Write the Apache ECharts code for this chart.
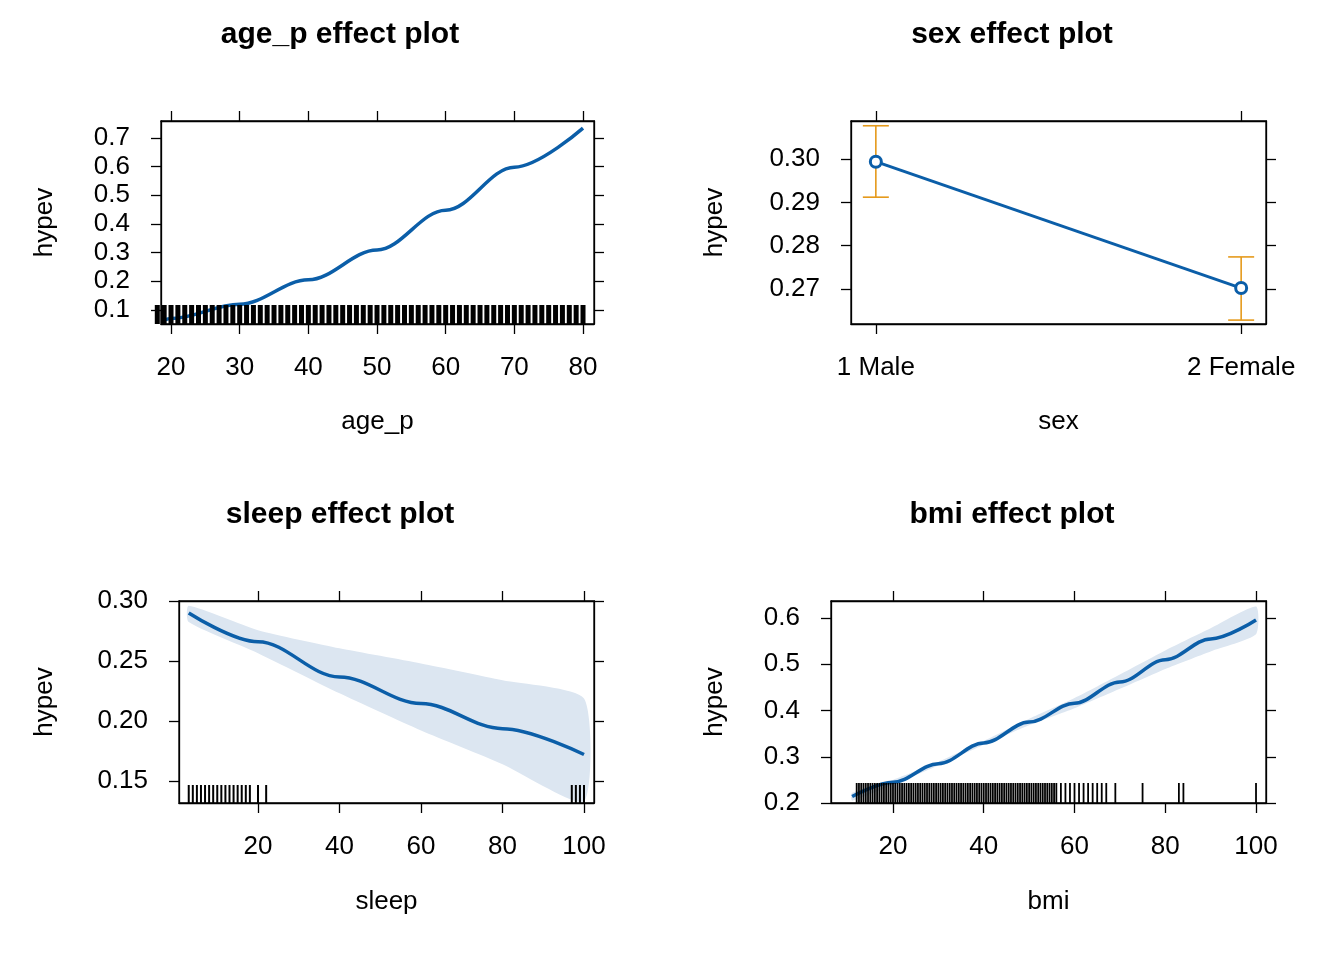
<!DOCTYPE html>
<html>
<head>
<meta charset="utf-8">
<script src="https://cdn.jsdelivr.net/npm/echarts@6/dist/echarts.min.js"></script>
<style>html,body{margin:0;background:#fff}#main{width:1344px;height:960px}</style>
</head>
<body>
<div id="main"></div>
<script>
'use strict';
// age_p panel
const ageX = [19, 20, 30, 40, 50, 60, 70, 80];
const ageFit = [0.065, 0.07, 0.12, 0.205, 0.309, 0.448, 0.598, 0.734];
const ageRug = [18,19,20,21,22,23,24,25,26,27,28,29,30,31,32,33,34,35,36,37,38,39,40,41,42,43,44,45,46,47,48,49,
  50,51,52,53,54,55,56,57,58,59,60,61,62,63,64,65,66,67,68,69,70,71,72,73,74,75,76,77,78,79,80];
// sex panel
const sexCats = ['1 Male', '2 Female'];
const sexFit = [0.2994, 0.2702];
const sexLower = [0.2912, 0.2628];
const sexUpper = [0.3077, 0.2774];
// sleep panel
const sleepX = [3, 20, 40, 60, 80, 100];
const sleepFit = [0.290, 0.266, 0.2366, 0.2145, 0.1936, 0.172];
const sleepLow = [0.2824, 0.2565, 0.223, 0.192, 0.164, 0.133];
const sleepUp = [0.296, 0.2757, 0.2606, 0.248, 0.234, 0.2188];
const sleepRug = [3,4,5,6,7,8,9,10,11,12,13,14,15,16,17,18,20,22,97,98,99,100];
// bmi panel
const bmiX = [11, 20, 30, 40, 50, 60, 70, 80, 90, 100];
const bmiFit = [0.214, 0.245, 0.285, 0.33, 0.375, 0.416, 0.462, 0.51, 0.555, 0.596];
const bmiLow = [0.205, 0.24, 0.281, 0.326, 0.368, 0.405, 0.447, 0.49, 0.528, 0.565];
const bmiUp = [0.222, 0.25, 0.289, 0.334, 0.382, 0.427, 0.478, 0.53, 0.578, 0.625];
const bmiRug = [12,12.5,13,13.5,14,14.5,15,15.5,16,16.5,17,17.5,18,18.5,19,19.5,20,20.5,21,21.5,22,22.5,23,23.5,
  24,24.5,25,25.5,26,26.5,27,27.5,28,28.5,29,29.5,30,30.5,31,31.5,32,32.5,33,33.5,34,34.5,35,35.5,36,36.5,
  37,37.5,38,38.5,39,39.5,40,40.5,41,41.5,42,42.5,43,43.5,44,44.5,45,45.5,46,46.5,47,47.5,48,48.5,49,49.5,
  50,50.5,51,51.5,52,52.5,53,53.5,54,54.5,55,55.5,56,57,58,59,60,61,62,63,64,65,66,67,69,75,83,84,100];

const BLUE = '#0B5EA8', BAND = '#DCE6F1', ORANGE = '#E59A1C';
const FONT = 'Liberation Sans';

const panels = [
  {grid: {left: 161, top: 121, width: 433, height: 203}, title: 'age_p effect plot', xname: 'age_p', tx: 335,
    xmin: 18.54, xmax: 81.6, ymin: 0.051, ymax: 0.759, xt: [20,30,40,50,60,70,80], yt: [0.1,0.2,0.3,0.4,0.5,0.6,0.7],
    yfmt: v => v.toFixed(1), ygap: 103, xgap: 85},
  {grid: {left: 851, top: 121, width: 415, height: 203}, title: 'sex effect plot', xname: 'sex', tx: 1007,
    xmin: 0.932, xmax: 2.068, ymin: 0.2619, ymax: 0.3088, xt: [1, 2], yt: [0.27,0.28,0.29,0.30],
    yfmt: v => v.toFixed(2), xfmt: v => sexCats[Math.round(v) - 1], ygap: 123, xgap: 85},
  {grid: {left: 179, top: 601, width: 415, height: 202}, title: 'sleep effect plot', xname: 'sleep', tx: 335,
    xmin: 0.61, xmax: 102.45, ymin: 0.1316, ymax: 0.30, xt: [20,40,60,80,100], yt: [0.15,0.20,0.25,0.30],
    yfmt: v => v.toFixed(2), ygap: 121, xgap: 86},
  {grid: {left: 831, top: 601, width: 435, height: 202}, title: 'bmi effect plot', xname: 'bmi', tx: 1007,
    xmin: 6.34, xmax: 102.2, ymin: 0.2, ymax: 0.637, xt: [20,40,60,80,100], yt: [0.2,0.3,0.4,0.5,0.6],
    yfmt: v => v.toFixed(1), ygap: 103, xgap: 86}
];

const grid = [], xAxis = [], yAxis = [], title = [], series = [];
const lineStyle = {color: '#000', width: 1.3};
panels.forEach((p, i) => {
  grid.push(Object.assign({show: true, borderColor: '#000', borderWidth: 1.3}, p.grid));
  title.push({text: p.title, left: p.tx, top: p.grid.top - 106, textAlign: 'center',
    textStyle: {fontFamily: FONT, fontSize: 30, fontWeight: 'bold', color: '#000'}});
  ['bottom', 'top'].forEach(pos => {
    xAxis.push({type: 'value', gridIndex: i, position: pos, min: p.xmin, max: p.xmax,
      name: pos === 'bottom' ? p.xname : '', nameLocation: 'middle', nameGap: p.xgap,
      nameTextStyle: {fontFamily: FONT, fontSize: 26, color: '#000'},
      splitLine: {show: false}, axisLine: {show: true, lineStyle},
      axisTick: {show: true, length: 10, lineStyle, customValues: p.xt},
      axisLabel: {show: pos === 'bottom', customValues: p.xt, margin: 31, fontFamily: FONT, fontSize: 26, color: '#000',
        formatter: p.xfmt || (v => String(v))}});
  });
  ['left', 'right'].forEach(pos => {
    yAxis.push({type: 'value', gridIndex: i, position: pos, min: p.ymin, max: p.ymax,
      name: pos === 'left' ? 'hypev' : '', nameLocation: 'middle', nameGap: p.ygap, nameRotate: 90,
      nameTextStyle: {fontFamily: FONT, fontSize: 26, color: '#000'},
      splitLine: {show: false}, axisLine: {show: true, lineStyle},
      axisTick: {show: true, length: 10, lineStyle, customValues: p.yt},
      axisLabel: {show: pos === 'left', customValues: p.yt, margin: 31, fontFamily: FONT, fontSize: 26, color: '#000',
        formatter: p.yfmt}});
  });
});

const ax = i => ({xAxisIndex: i * 2, yAxisIndex: i * 2});

function band(i, xs, lo, up) {
  const p = panels[i];
  return Object.assign({type: 'custom', silent: true, z: 1, data: [0],
    renderItem: (params, api) => {
      const pts = xs.map((x, k) => api.coord([x, up[k]]));
      for (let k = xs.length - 1; k >= 0; k--) pts.push(api.coord([xs[k], Math.max(lo[k], p.ymin)]));
      return {type: 'polygon', shape: {points: pts, smooth: 0.2}, style: {fill: BAND}};
    }}, ax(i));
}

function rug(i, vals, len, w) {
  const p = panels[i];
  return Object.assign({type: 'custom', silent: true, z: 5, data: vals.map(v => [v]),
    renderItem: (params, api) => {
      const b = api.coord([api.value(0), p.ymin]);
      return {type: 'line', shape: {x1: b[0], y1: b[1], x2: b[0], y2: b[1] - len}, style: {stroke: '#000', lineWidth: w}};
    }}, ax(i));
}

function fit(i, xs, ys) {
  return Object.assign({type: 'line', smooth: 0.35, smoothMonotone: 'x', showSymbol: false, z: 3,
    data: xs.map((x, k) => [x, ys[k]]), lineStyle: {color: BLUE, width: 3.5}}, ax(i));
}

series.push(fit(0, ageX, ageFit), rug(0, ageRug, 19, 5));

series.push(Object.assign({type: 'line', data: sexFit.map((v, k) => [k + 1, v]), symbol: 'circle', symbolSize: 11,
  itemStyle: {color: '#fff', borderColor: BLUE, borderWidth: 3}, lineStyle: {color: BLUE, width: 3}, z: 4}, ax(1)));
series.push(Object.assign({type: 'custom', z: 2, data: sexFit.map((v, k) => [k + 1, sexLower[k], sexUpper[k]]),
  renderItem: (params, api) => {
    const lo = api.coord([api.value(0), api.value(1)]), hi = api.coord([api.value(0), api.value(2)]);
    const s = {stroke: ORANGE, lineWidth: 1.6};
    return {type: 'group', children: [
      {type: 'line', shape: {x1: lo[0], y1: lo[1], x2: hi[0], y2: hi[1]}, style: s},
      {type: 'line', shape: {x1: lo[0] - 13, y1: lo[1], x2: lo[0] + 13, y2: lo[1]}, style: s},
      {type: 'line', shape: {x1: hi[0] - 13, y1: hi[1], x2: hi[0] + 13, y2: hi[1]}, style: s}]};
  }}, ax(1)));

series.push(band(2, sleepX, sleepLow, sleepUp), fit(2, sleepX, sleepFit), rug(2, sleepRug, 18, 2));
series.push(band(3, bmiX, bmiLow, bmiUp), fit(3, bmiX, bmiFit), rug(3, bmiRug, 20, 1.8));

const chart = echarts.init(document.getElementById('main'));
chart.setOption({animation: false, backgroundColor: '#fff', title, grid, xAxis, yAxis, series});
</script>
</body>
</html>
